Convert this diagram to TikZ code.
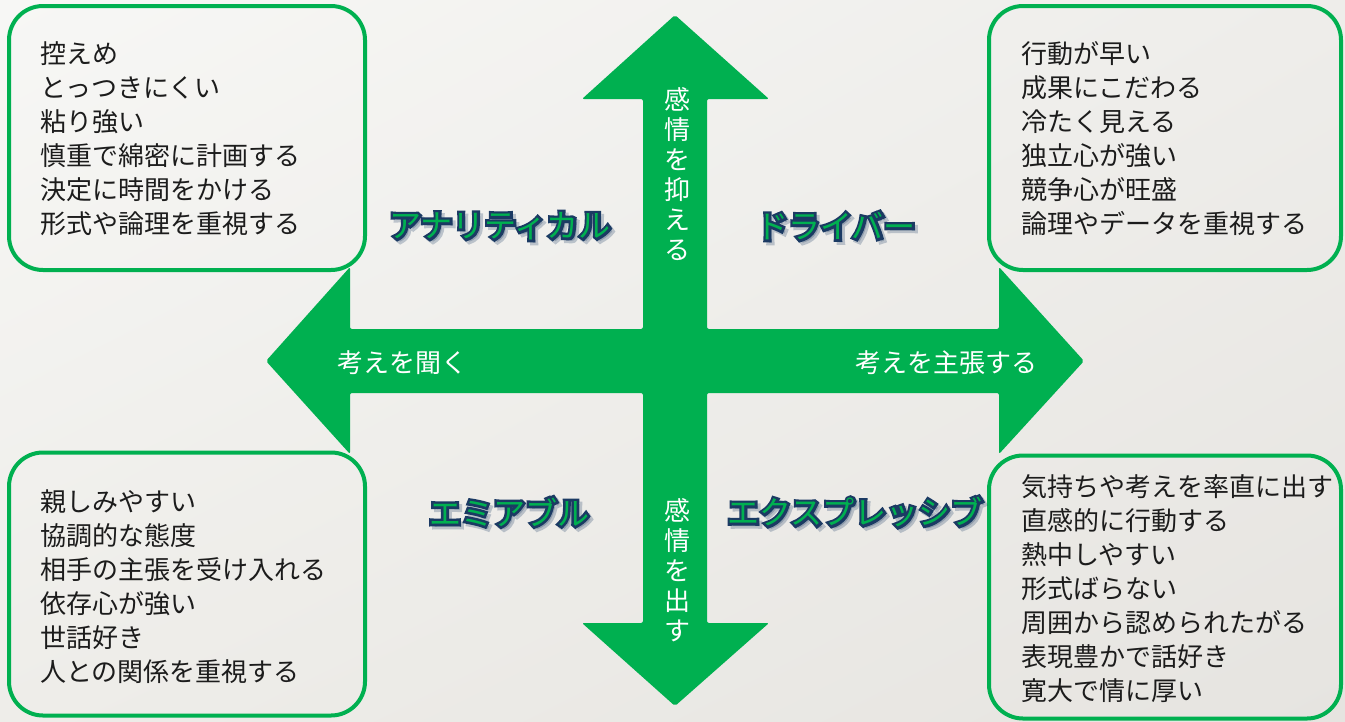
\documentclass[tikz,border=0pt]{standalone}
\usepackage{fontspec}
\usetikzlibrary{shadings}
\newfontfamily\jp{Noto Sans CJK JP}
\newfontfamily\jpfat{Noto Sans CJK JP}[FakeBold=16]
\definecolor{grn}{HTML}{00B050}
\definecolor{navy}{HTML}{1B3A63}
\definecolor{ink}{HTML}{1C1C1C}
\definecolor{bgUL}{HTML}{F7F7F5}
\definecolor{bgUR}{HTML}{EEEDEA}
\definecolor{bgLL}{HTML}{EEEDE9}
\definecolor{bgLR}{HTML}{E6E4E0}
\newcommand\typelabel[3]{%
  \node[lblout,opacity=.25,xshift=3pt,yshift=-3pt] at (#2) {#3};
  \node[lblout] at (#2) {#3};
  \node[lblcore] (#1) at (#2) {#3};
}
\begin{document}
\begin{tikzpicture}[x=1pt,y=-1pt,
  box/.style={draw=grn,line width=4pt,rounded corners=34pt,inner sep=0pt},
  list/.style={anchor=west,align=left,inner sep=0pt,text=ink,font=\jp\fontsize{26}{34}\selectfont},
  lblout/.style={inner sep=0pt,text=navy,font=\jpfat\fontsize{32}{36}\selectfont},
  lblcore/.style={inner sep=0pt,text=grn,font=\jp\fontsize{32}{36}\selectfont},
  arrowtxt/.style={inner sep=0pt,text=white,font=\jp\fontsize{26}{30}\selectfont,align=center}]
\useasboundingbox (0,0) rectangle (1345,721);
\shade[upper left=bgUL,upper right=bgUR,lower left=bgLL,lower right=bgLR] (0,0) rectangle (1345,721);
% cross arrow
\fill[grn,rounded corners=2pt] (675,15) -- (769,99) -- (707,99) -- (707,329) -- (999,329) -- (999,267)
  -- (1084,361) -- (999,454) -- (999,393) -- (707,393) -- (707,623) -- (769,623) -- (675,706)
  -- (582,623) -- (643,623) -- (643,393) -- (350,393) -- (350,454) -- (266,361) -- (350,267)
  -- (350,329) -- (643,329) -- (643,99) -- (582,99) -- cycle;
% boxes
\node[box,minimum width=356pt,minimum height=264pt] (tl) at (187,138) {};
\node[box,minimum width=352pt,minimum height=264pt] (tr) at (1165,138) {};
\node[box,minimum width=356pt,minimum height=263pt] (bl) at (187,584) {};
\node[box,minimum width=352pt,minimum height=263pt] (br) at (1165,587) {};
% lists
\node[list] (tltext) at (40,139) {控えめ\\とっつきにくい\\粘り強い\\慎重で綿密に計画する\\決定に時間をかける\\形式や論理を重視する};
\node[list] (trtext) at (1021,139) {行動が早い\\成果にこだわる\\冷たく見える\\独立心が強い\\競争心が旺盛\\論理やデータを重視する};
\node[list] (bltext) at (40,587) {親しみやすい\\協調的な態度\\相手の主張を受け入れる\\依存心が強い\\世話好き\\人との関係を重視する};
\node[list] (brtext) at (1021,588.5) {気持ちや考えを率直に出す\\直感的に行動する\\熱中しやすい\\形式ばらない\\周囲から認められたがる\\表現豊かで話好き\\寛大で情に厚い};
% arrow labels
\node[arrowtxt] (up) at (677,174) {感\\情\\を\\抑\\え\\る};
\node[arrowtxt] (down) at (677,570) {感\\情\\を\\出\\す};
\node[arrowtxt] (left) at (402,363) {考えを聞く};
\node[arrowtxt] (right) at (946,363) {考えを主張する};
% type labels
\typelabel{ana}{500,226}{アナリティカル}
\typelabel{drv}{836,226}{ドライバー}
\typelabel{ami}{509,512}{エミアブル}
\typelabel{exp}{855,512}{エクスプレッシブ}
\end{tikzpicture}
\end{document}
